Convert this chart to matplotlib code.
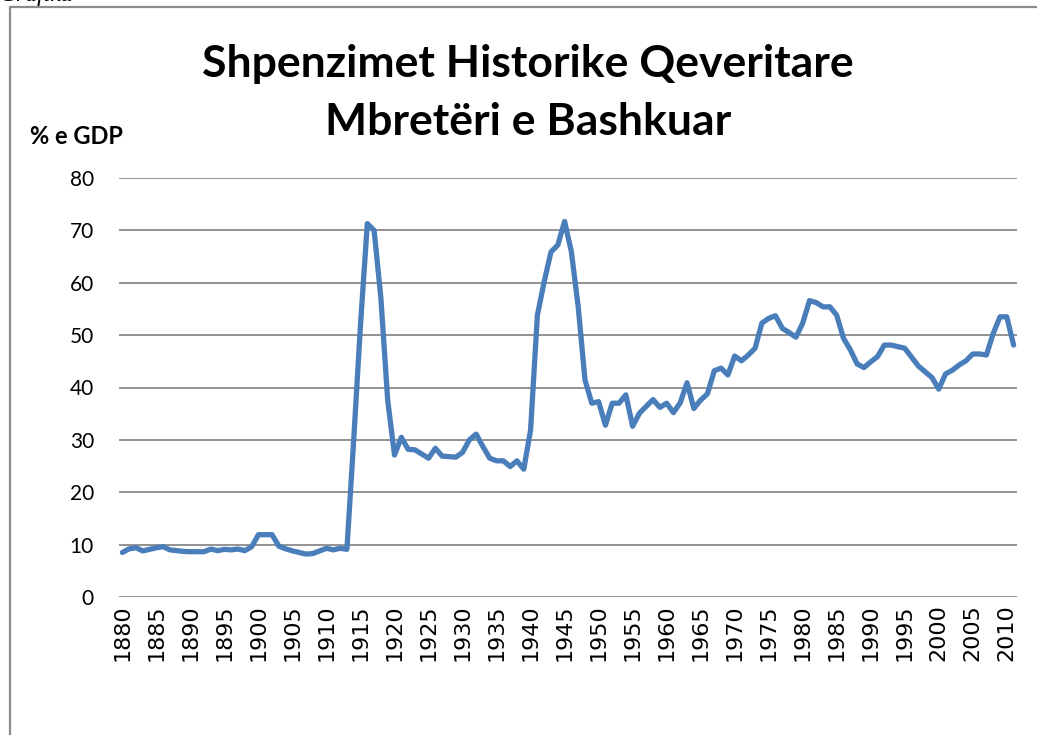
import matplotlib
matplotlib.use("Agg")
import matplotlib.pyplot as plt
from matplotlib.patches import Rectangle

# UK historic government spending, % of GDP
years = list(range(1880, 2012))
spending = [
    8.5, 9.2, 9.4, 8.8, 9.1, 9.4, 9.6, 9.0, 8.85, 8.7,      # 1880s
    8.65, 8.65, 8.65, 9.15, 8.85, 9.1, 9.0, 9.15, 8.85, 9.6, # 1890s
    11.9, 11.9, 11.9, 9.7, 9.2, 8.8, 8.5, 8.2, 8.3, 8.8,     # 1900s
    9.3, 9.0, 9.3, 9.1, 30.0, 52.0, 71.3, 70.0, 57.0, 37.5,  # 1910s
    27.1, 30.5, 28.2, 28.1, 27.3, 26.5, 28.4, 26.9, 26.8, 26.7,  # 1920s
    27.6, 30.0, 31.1, 28.7, 26.5, 26.0, 26.0, 24.9, 26.0, 24.4,  # 1930s
    31.9, 53.8, 60.2, 65.9, 67.2, 71.7, 65.9, 55.4, 41.4, 37.0,  # 1940s
    37.3, 32.8, 37.0, 37.0, 38.6, 32.6, 35.1, 36.4, 37.7, 36.2,  # 1950s
    37.0, 35.2, 37.1, 40.9, 36.0, 37.6, 38.8, 43.2, 43.7, 42.4,  # 1960s
    46.0, 45.1, 46.2, 47.5, 52.3, 53.2, 53.7, 51.3, 50.5, 49.6,  # 1970s
    52.3, 56.6, 56.2, 55.4, 55.4, 53.8, 49.4, 47.2, 44.5, 43.8,  # 1980s
    44.9, 45.9, 48.1, 48.1, 47.8, 47.5, 45.8, 44.1, 43.0, 41.9,  # 1990s
    39.7, 42.6, 43.3, 44.3, 45.1, 46.4, 46.4, 46.2, 50.3, 53.5,  # 2000s
    53.5, 48.1,
]
tick_years = list(range(1880, 2011, 5))
y_ticks = list(range(0, 81, 10))

title = "Shpenzimet Historike Qeveritare\nMbretëri e Bashkuar"
y_label = "% e GDP"

fig = plt.figure(figsize=(10.37, 7.35), dpi=100)

# chart frame, cut off at the right and bottom like the screenshot
fig.patches.append(Rectangle((10 / 1037, -0.05), 1.2, 1 - 7 / 735 + 0.05,
                             transform=fig.transFigure, fill=False,
                             edgecolor="#8c8c8c", linewidth=1.6))
# caption above the frame, mostly outside the screenshot
fig.text(0.0, 1 - 1 / 735, "Grafiku", family="Liberation Serif",
         style="italic", fontsize=17, va="baseline", ha="left")

ax = fig.add_axes([119 / 1037, 1 - 597 / 735, 898 / 1037, 419 / 735])
ax.plot(years, spending, color="#4a7ebb", linewidth=3.8,
        solid_joinstyle="round", solid_capstyle="round", zorder=3)

ax.set_xlim(1879.5, 2011.5)
ax.set_ylim(0, 80)
ax.set_yticks(y_ticks)
ax.set_xticks(tick_years)
ax.set_xticklabels([str(y) for y in tick_years], rotation=90,
                   family="DejaVu Sans", fontsize=16)
ax.set_yticklabels([str(v) for v in y_ticks], family="Lato", fontsize=15)
ax.tick_params(axis="both", length=0)
ax.tick_params(axis="y", pad=18)
ax.tick_params(axis="x", pad=5)
ax.grid(axis="y", color="#8a8a8a", linewidth=1.3)
ax.set_axisbelow(True)
for side in ax.spines.values():
    side.set_visible(False)

fig.text(528 / 1037, 1 - 93 / 735, title, ha="center", va="center",
         family="Lato", fontweight="bold", fontsize=32, linespacing=1.56)
fig.text(30 / 1037, 1 - 136 / 735, y_label, ha="left", va="center",
         family="Lato", fontweight="bold", fontsize=17)

fig.savefig("out.png", dpi=100)
